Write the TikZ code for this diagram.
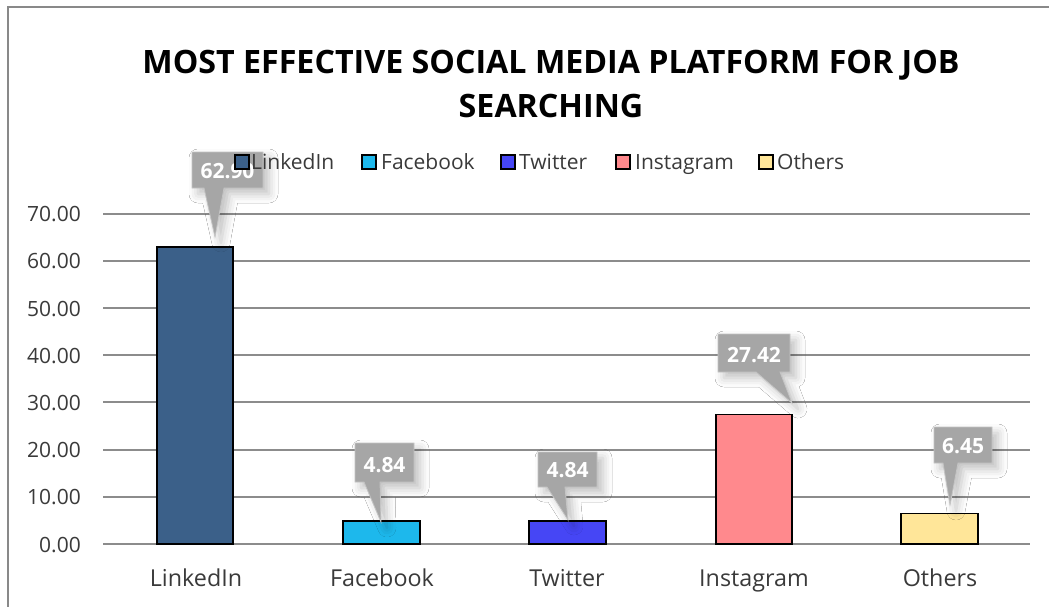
\documentclass[tikz,border=0pt]{standalone}
\usepackage{fontspec}
\setmainfont{Open Sans}
\usetikzlibrary{shadows.blur}
\definecolor{gridc}{HTML}{8C8C8C}
\definecolor{framec}{HTML}{898989}
\definecolor{labc}{HTML}{3A3A3A}
\definecolor{cLinked}{HTML}{3B6089}
\definecolor{cFace}{HTML}{1DB8EC}
\definecolor{cTwit}{HTML}{4646F5}
\definecolor{cInsta}{HTML}{FF898D}
\definecolor{cOther}{HTML}{FFE699}
\definecolor{calfill}{HTML}{A6A6A6}
\definecolor{caledge}{HTML}{C4C4C4}
\tikzset{
  gridline/.style={draw=gridc, line width=2pt},
  framel/.style={draw=framec, line width=1.5pt},
  barbox/.style={draw=black, line width=1.5pt},
  ticklab/.style={anchor=base east, inner sep=0pt, text=labc, font=\fontsize{21}{26}\selectfont},
  catlab/.style={anchor=base, inner sep=0pt, text=labc, font=\fontsize{23.3}{28}\selectfont},
  leglab/.style={anchor=base west, inner sep=0pt, text=labc, font=\fontsize{21}{26}\selectfont},
  legsq/.style={draw=black, line width=1.5pt},
  titletext/.style={anchor=base, inner sep=0pt, font=\fontsize{32.2}{40}\selectfont\bfseries},
  calshape/.style={fill=calfill, draw=caledge, line width=0.8pt,
     blur shadow={shadow xshift=6pt, shadow yshift=-6pt, shadow blur radius=9pt, shadow opacity=25}},
  caltext/.style={anchor=base, inner sep=0pt, text=white, font=\fontsize{21}{26}\selectfont\bfseries}
}
% #1 left #2 top #3 right #4 bottom #5 base-left #6 base-right #7 tipx #8 tipy #9 name
\newcommand\mycallout[9]{%
  \path[calshape] (#1,#2) -- (#3,#2) -- (#3,#4) -- (#6,#4) -- (#7,#8) -- (#5,#4) -- (#1,#4) -- cycle;
}
\begin{document}
\begin{tikzpicture}[x=1pt,y=-1pt]
\useasboundingbox (0,0) rectangle (1049,607);
\fill[white] (0,0) rectangle (1049,607);
\draw[framel] (8,607) -- (8,7) -- (1049,7);

% title
\node[titletext] (title1) at (551,74) {MOST EFFECTIVE SOCIAL MEDIA PLATFORM FOR JOB};
\node[titletext] (title2) at (551,118) {SEARCHING};

% grid and ticks
\foreach \v/\t in {0/0.00,10/10.00,20/20.00,30/30.00,40/40.00,50/50.00,60/60.00,70/70.00}{
  \pgfmathsetmacro\gy{544-\v*4.72}
  \draw[gridline] (103,\gy) -- (1030,\gy);
  \node[ticklab] (tick\v) at (81,\gy+8) {\t};
}

% bars
\draw[barbox, fill=cLinked] (157,544) rectangle (233,247.1);
\draw[barbox, fill=cFace]   (343,544) rectangle (420,521.2);
\draw[barbox, fill=cTwit]   (529,544) rectangle (606,521.2);
\draw[barbox, fill=cInsta]  (716,544) rectangle (792,414.6);
\draw[barbox, fill=cOther]  (901,544) rectangle (978,513.6);

% category labels
\node[catlab] (catL) at (196,586) {LinkedIn};
\node[catlab] (catF) at (382,586) {Facebook};
\node[catlab] (catT) at (567,586) {Twitter};
\node[catlab] (catI) at (754,586) {Instagram};
\node[catlab] (catO) at (940,586) {Others};

% callouts
\mycallout{192}{152}{263}{188}{204}{224}{215}{237}{c1}
\node[caltext] (val1) at (227.5,178) {62.90};
\mycallout{355}{443}{414}{482}{364}{380}{381}{522}{c2}
\node[caltext] (val2) at (384.5,472) {4.84};
\mycallout{538}{452}{597}{487}{547}{565}{568}{520}{c3}
\node[caltext] (val3) at (567.5,477) {4.84};
\mycallout{718}{334}{790}{372}{756}{780}{792}{403}{c4}
\node[caltext] (val4) at (754,362) {27.42};
\mycallout{934}{427}{992}{463}{943}{958}{950}{505}{c5}
\node[caltext] (val5) at (963,453) {6.45};

% legend
\draw[legsq, fill=cLinked] (235,155) rectangle (249,169);
\node[leglab] (legL) at (251,169) {LinkedIn};
\draw[legsq, fill=cFace] (362,155) rectangle (376,169);
\node[leglab] (legF) at (381,169) {Facebook};
\draw[legsq, fill=cTwit] (501,155) rectangle (515,169);
\node[leglab] (legT) at (519,169) {Twitter};
\draw[legsq, fill=cInsta] (616,155) rectangle (630,169);
\node[leglab] (legI) at (635,169) {Instagram};
\draw[legsq, fill=cOther] (759,155) rectangle (773,169);
\node[leglab] (legO) at (777,169) {Others};
\end{tikzpicture}
\end{document}
